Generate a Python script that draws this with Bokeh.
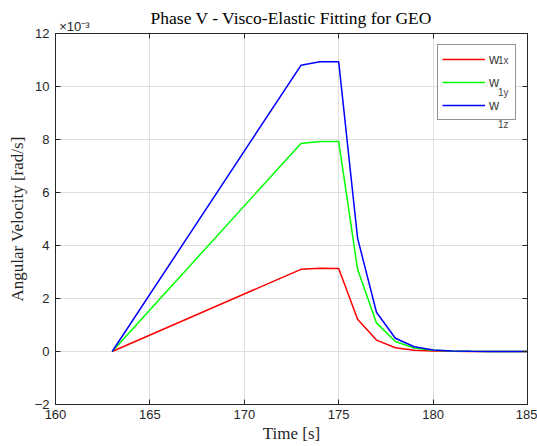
from bokeh.plotting import figure
from bokeh.models import (Range1d, LinearAxis, Legend, LegendItem, FixedTicker,
                          SingleIntervalTicker, CustomJSTickFormatter)
from bokeh.embed import file_html
from bokeh.resources import INLINE

# Data (angular velocity in units of 1e-3 rad/s)
t = [163, 173, 174, 175, 176, 177, 178, 179, 180, 181, 182, 183, 184, 185]
w1x = [0.0, 3.10, 3.14, 3.13, 1.22, 0.43, 0.14, 0.05, 0.017, 0.006, 0.002, 0.001, 0.0, 0.0]
w1y = [0.0, 7.85, 7.92, 7.92, 3.10, 1.08, 0.38, 0.13, 0.045, 0.016, 0.006, 0.002, 0.001, 0.0]
w1z = [0.0, 10.80, 10.93, 10.93, 4.28, 1.48, 0.50, 0.18, 0.06, 0.02, 0.008, 0.003, 0.001, 0.0]
series_names = ["w", "w", "w"]
subscripts = ["1x", "1y", "1z"]
colors = ["#ff0000", "#00ff00", "#0000ff"]

title_text = "Phase V - Visco-Elastic Fitting for GEO"
x_label = "Time [s]"
y_label = "Angular Velocity [rad/s]"
exponent_text = "\u00d710\u207b\u00b3"

AX = "#262626"
GRID = "#dfdfdf"

p = figure(width=537, height=446, x_range=Range1d(160, 185), y_range=Range1d(-2, 12),
           output_backend="svg", toolbar_location=None,
           min_border_left=55, min_border_right=10, min_border_top=33, min_border_bottom=42)
p.background_fill_color = "white"
p.border_fill_color = "white"
p.outline_line_color = AX
p.outline_line_width = 1

xt = SingleIntervalTicker(interval=5, num_minor_ticks=0)
yt = SingleIntervalTicker(interval=2, num_minor_ticks=0)

for ax, tk in ((p.xaxis[0], xt), (p.yaxis[0], yt)):
    ax.ticker = tk
    ax.major_tick_in = 5
    ax.major_tick_out = 0
    ax.minor_tick_line_color = None
    ax.axis_line_color = AX
    ax.major_tick_line_color = AX
    ax.major_label_text_font = "Liberation Sans"
    ax.major_label_text_font_size = "13px"
    ax.major_label_text_color = AX
    ax.axis_label_text_font = "Liberation Serif"
    ax.axis_label_text_font_style = "normal"
    ax.axis_label_text_font_size = "17px"
    ax.axis_label_text_color = AX

p.xaxis[0].axis_label = x_label
p.yaxis[0].axis_label = y_label
p.xaxis[0].major_label_standoff = 5
p.yaxis[0].major_label_standoff = 6
p.xaxis[0].axis_label_standoff = 2
p.yaxis[0].axis_label_standoff = 5

empty = CustomJSTickFormatter(code="return ''")
top = LinearAxis(ticker=xt, formatter=empty, major_tick_in=5, major_tick_out=0,
                 minor_tick_line_color=None, axis_line_color=AX, major_tick_line_color=AX,
                 major_label_standoff=0)
right = LinearAxis(ticker=yt, formatter=empty, major_tick_in=5, major_tick_out=0,
                   minor_tick_line_color=None, axis_line_color=AX, major_tick_line_color=AX,
                   major_label_standoff=0)
p.add_layout(top, "above")
p.add_layout(right, "right")

# exponent (as a tick label) and title (as the axis label) above the frame
head = LinearAxis(ticker=FixedTicker(ticks=[161]), major_label_overrides={161: exponent_text},
                  major_tick_line_color=None, minor_tick_line_color=None, axis_line_color=None,
                  major_tick_in=0, major_tick_out=0, major_label_standoff=0,
                  major_label_text_font="Liberation Sans", major_label_text_font_size="13px",
                  major_label_text_color=AX,
                  axis_label=title_text, axis_label_text_font="Liberation Serif",
                  axis_label_text_font_style="normal", axis_label_text_font_size="17.5px",
                  axis_label_text_color="black", axis_label_standoff=-12)
p.add_layout(head, "above")

p.xgrid.ticker = xt
p.ygrid.ticker = yt
p.grid.grid_line_color = GRID
p.grid.grid_line_width = 1

renderers = []
for ys, c in zip((w1x, w1y, w1z), colors):
    renderers.append(p.line(t, ys, line_color=c, line_width=1.5))

legend = Legend(items=[LegendItem(label=n, renderers=[r]) for n, r in zip(series_names, renderers)],
                location="top_right", margin=11, padding=4, spacing=3,
                glyph_width=43, glyph_height=20, label_height=20, label_width=22,
                label_standoff=4, label_text_font="Liberation Sans", label_text_font_size="14px",
                border_line_color=AX, border_line_width=1, background_fill_color="white")
p.add_layout(legend)

# subscripts of the legend labels
sub_legend = Legend(items=[LegendItem(label=s, renderers=[r]) for s, r in zip(subscripts, renderers)],
                    location="top_right", margin=11, padding=4, spacing=-9,
                    glyph_width=0, glyph_height=20, label_height=32, label_width=18,
                    label_standoff=0, label_text_font="Liberation Sans", label_text_font_size="10px",
                    label_text_baseline="middle",
                    border_line_color=None, background_fill_alpha=0)
p.add_layout(sub_legend)

open("out.html", "w").write(file_html(p, INLINE))
